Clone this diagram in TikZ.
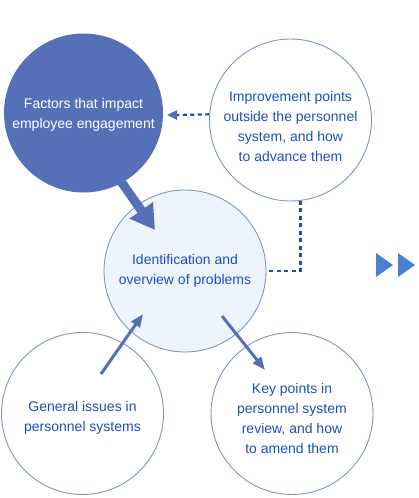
\documentclass[tikz,border=0pt]{standalone}
\usepackage{fontspec}
\setmainfont{Liberation Sans}
\usetikzlibrary{arrows.meta,calc}
\definecolor{darkfill}{HTML}{5670B8}
\definecolor{lightfill}{HTML}{EEF4FC}
\definecolor{rim}{HTML}{7D95CC}
\definecolor{txtblue}{HTML}{1E4FBF}
\definecolor{dotblue}{HTML}{1A4DBE}
\definecolor{triblue}{HTML}{4A7FD6}
\begin{document}
\begin{tikzpicture}[x=1pt,y=-1pt,
  bub/.style={circle,draw=rim,line width=0.9pt,fill=white,inner sep=0pt,minimum size=162pt},
  bubtext/.style={align=center,text=txtblue,font=\fontsize{14}{20}\selectfont,inner sep=0pt},
  dotline/.style={draw=dotblue,line width=2.2pt,dash pattern=on 4pt off 3.5pt},
  thinarrow/.style={draw=darkfill,line width=3pt,-{Triangle[length=13pt,width=10pt]}},
  bigarrow/.style={draw=darkfill,line width=9pt,-{Triangle[length=24pt,width=27pt]}},
  tri/.style={fill=triblue,draw=none}
]
\useasboundingbox (0,0) rectangle (418,498);
% circles
\node[bub] (imp) at (290.5,120) {};
\node[bub] (gen) at (82.5,413.5) {};
\node[bub] (key) at (292,413.5) {};
\node[bub,fill=lightfill] (cen) at (185,271) {};
\node[circle,fill=darkfill,draw=none,inner sep=0pt,minimum size=159pt] (fac) at (83.5,113) {};
% texts
\node[bubtext,text=white] (tfac) at (83.5,115) {Factors that impact\\employee engagement};
\node[bubtext] (timp) at (290.5,126) {Improvement points\\outside the personnel\\system, and how\\to advance them};
\node[bubtext] (tcen) at (185,271) {Identification and\\overview of problems};
\node[bubtext] (tgen) at (82.5,418) {General issues in\\personnel systems};
\node[bubtext] (tkey) at (292,418) {Key points in\\personnel system\\review, and how\\to amend them};
% dotted connectors
\coordinate (dtip) at ($(fac.east)+(4,2)$);
\draw[dotline] (imp.176.5) -- ($(dtip)+(10,0)$);
\fill[darkfill] (dtip) -- ++(10,-5) -- ++(0,10) -- cycle;
\draw[dotline] (imp.-83) |- (cen.east);
% arrows
\coordinate (bs) at (106,160);
\coordinate (bt) at (155,230);
\draw[bigarrow] (bs) -- (bt);
\coordinate (gs) at (101,374);
\coordinate (gt) at (143,314);
\draw[thinarrow] (gs) -- (gt);
\coordinate (ks) at (222,316);
\coordinate (kt) at (265,370);
\draw[thinarrow] (ks) -- (kt);
% triangles
\path[tri] (376,253) -- (393,265) -- (376,277) -- cycle;
\path[tri] (398,253) -- (415,265) -- (398,277) -- cycle;
\end{tikzpicture}
\end{document}
